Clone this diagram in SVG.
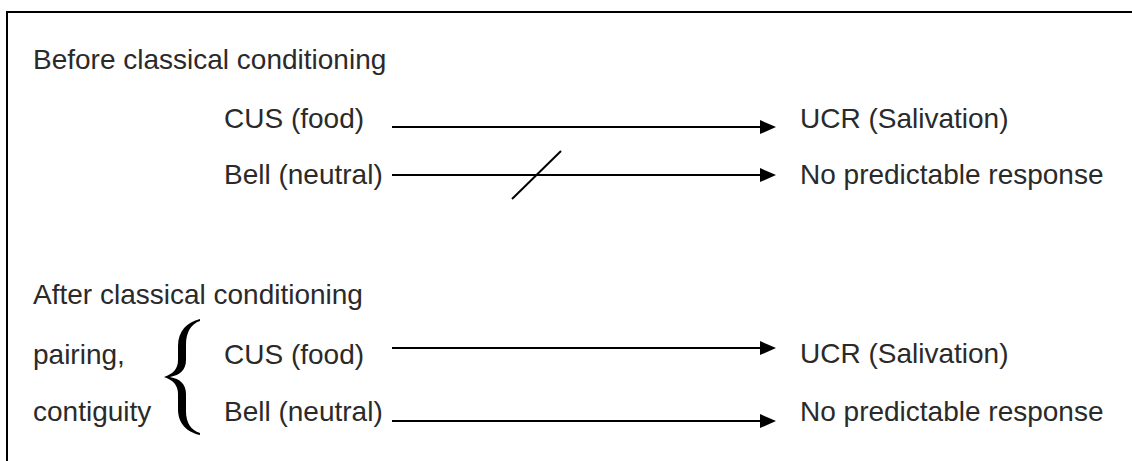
<svg xmlns="http://www.w3.org/2000/svg" width="1132" height="461" viewBox="0 0 1132 461">
  <style>
    .t { font-family: "Liberation Sans", Arial, sans-serif; font-size: 28px; fill: #2a2a2a; }
    .ln { stroke: #000; stroke-width: 2; fill: none; }
    .hd { fill: #000; }
  </style>
  <rect x="0" y="0" width="1132" height="461" fill="#fff"/>
  <g id="frame">
    <path d="M7,470 L7,12 L1140,12" class="ln"/>
  </g>
  <g id="headings">
    <text class="t" x="33" y="69">Before classical conditioning</text>
    <text class="t" x="33" y="304">After classical conditioning</text>
  </g>
  <g id="before-cus"><text class="t" x="224" y="128">CUS (food)</text></g>
  <g id="before-bell"><text class="t" x="224" y="184">Bell (neutral)</text></g>
  <g id="before-ucr"><text class="t" x="800" y="128">UCR (Salivation)</text></g>
  <g id="before-none"><text class="t" x="800" y="184">No predictable response</text></g>
  <g id="after-labels">
    <text class="t" x="33" y="364">pairing,</text>
    <text class="t" x="33" y="421">contiguity</text>
    <path id="brace" fill="#000" d="M200,319 C187,322 178,331 178,346 L178,360 C178,369 173,374 164,377 C173,380 178,385 178,394 L178,409 C178,424 187,432 200,435 L200,433 C191,430 186,423 186,411 L186,394 C186,384 180,379 170,377 C180,375 186,370 186,360 L186,345 C186,332 191,324 200,321 Z"/>
  </g>
  <g id="after-cus"><text class="t" x="224" y="364">CUS (food)</text></g>
  <g id="after-bell"><text class="t" x="224" y="421">Bell (neutral)</text></g>
  <g id="after-ucr"><text class="t" x="800" y="363">UCR (Salivation)</text></g>
  <g id="after-none"><text class="t" x="800" y="421">No predictable response</text></g>
  <g id="connectors">
    <line class="ln" x1="392" y1="127" x2="761" y2="127"/>
    <polygon class="hd" points="760,120 776,127 760,134"/>
    <line class="ln" x1="392" y1="175" x2="761" y2="175"/>
    <polygon class="hd" points="760,168 776,175 760,182"/>
    <line class="ln" x1="512" y1="199" x2="561" y2="151"/>
    <line class="ln" x1="392" y1="348" x2="761" y2="348"/>
    <polygon class="hd" points="760,341 776,348 760,355"/>
    <line class="ln" x1="392" y1="421" x2="761" y2="421"/>
    <polygon class="hd" points="760,414 776,421 760,428"/>
  </g>
</svg>
